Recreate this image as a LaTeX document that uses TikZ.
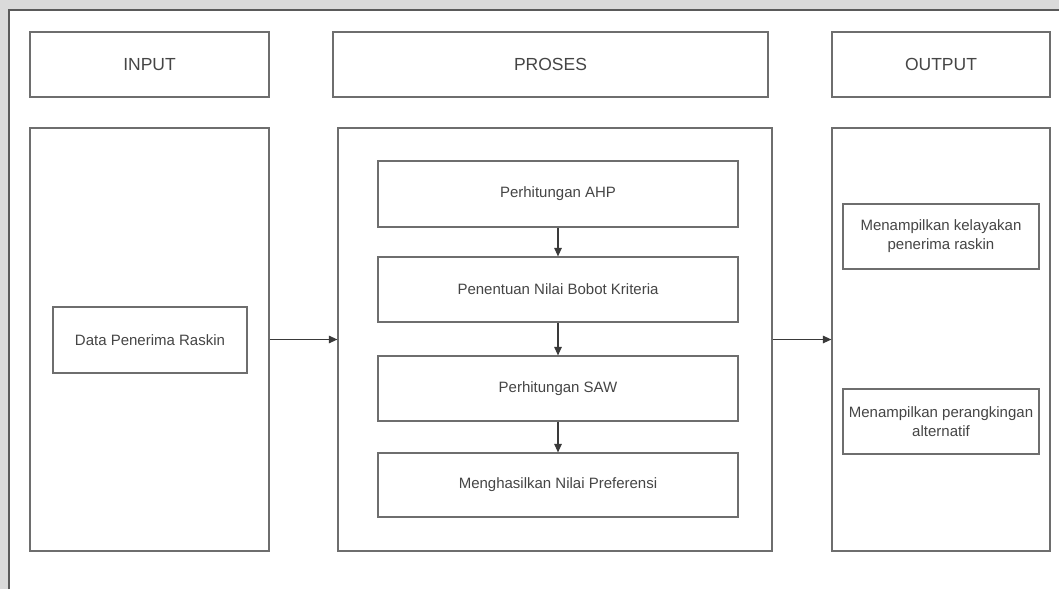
\documentclass[tikz,border=0pt]{standalone}
\usepackage{fontspec}
\setmainfont{Liberation Sans}
\usetikzlibrary{arrows.meta}
\definecolor{boxline}{HTML}{6E6E6E}
\definecolor{arrowline}{HTML}{3A3A3A}
\definecolor{txt}{HTML}{454545}
\definecolor{strip}{HTML}{DADADA}
\definecolor{frameline}{HTML}{5A5A5A}
\begin{document}
\begin{tikzpicture}[x=1pt,y=-1pt,
  box/.style={draw=boxline,line width=1.2pt,rectangle,inner sep=0pt,
    text=txt,align=center,font=\fontsize{15}{19}\selectfont},
  headbox/.style={box,font=\fontsize{17.5}{21}\selectfont,
    minimum height=65pt},
  flow/.style={draw=arrowline,line width=1.1pt,
    -{Triangle[length=8.5pt,width=7.5pt]}}
]
\useasboundingbox (0,0) rectangle (1059,589);
% page background and frame
\fill[white] (0,0) rectangle (1059,589);
\fill[strip] (0,0) rectangle (1059,10);
\fill[strip] (0,0) rectangle (9,589);
\draw[frameline,line width=1.1pt] (9,589) -- (9,10) -- (1059,10);

% column headers
\node[headbox,minimum width=239pt] (inH)  at (149.5,64.5) {INPUT};
\node[headbox,minimum width=435pt] (prH)  at (550.5,64.5) {PROSES};
\node[headbox,minimum width=218pt] (outH) at (941,64.5)   {OUTPUT};

% column bodies
\node[box,minimum width=239pt,minimum height=423pt] (inB)  at (149.5,339.5) {};
\node[box,minimum width=434pt,minimum height=423pt] (prB)  at (555,339.5)   {};
\node[box,minimum width=218pt,minimum height=423pt] (outB) at (941,339.5)   {};

% input
\node[box,minimum width=194pt,minimum height=66pt] (data) at (150,340) {Data Penerima Raskin};

% process steps
\node[box,minimum width=360pt,minimum height=66pt] (ahp)   at (558,194)   {Perhitungan AHP};
\node[box,minimum width=360pt,minimum height=65pt] (bobot) at (558,289.5) {Penentuan Nilai Bobot Kriteria};
\node[box,minimum width=360pt,minimum height=65pt] (saw)   at (558,388.5) {Perhitungan SAW};
\node[box,minimum width=360pt,minimum height=64pt] (pref)  at (558,485)   {Menghasilkan Nilai Preferensi};

% outputs
\node[box,minimum width=196pt,minimum height=65pt] (out1) at (941,236.5) {Menampilkan kelayakan\\penerima raskin};
\node[box,minimum width=196pt,minimum height=65pt] (out2) at (941,421.5) {Menampilkan perangkingan\\alternatif};

% connectors
\draw[flow] (inB.east) -- (prB.west);
\draw[flow] (prB.east) -- (outB.west);
\draw[flow] (ahp) -- (bobot);
\draw[flow] (bobot) -- (saw);
\draw[flow] (saw) -- (pref);
\end{tikzpicture}
\end{document}
